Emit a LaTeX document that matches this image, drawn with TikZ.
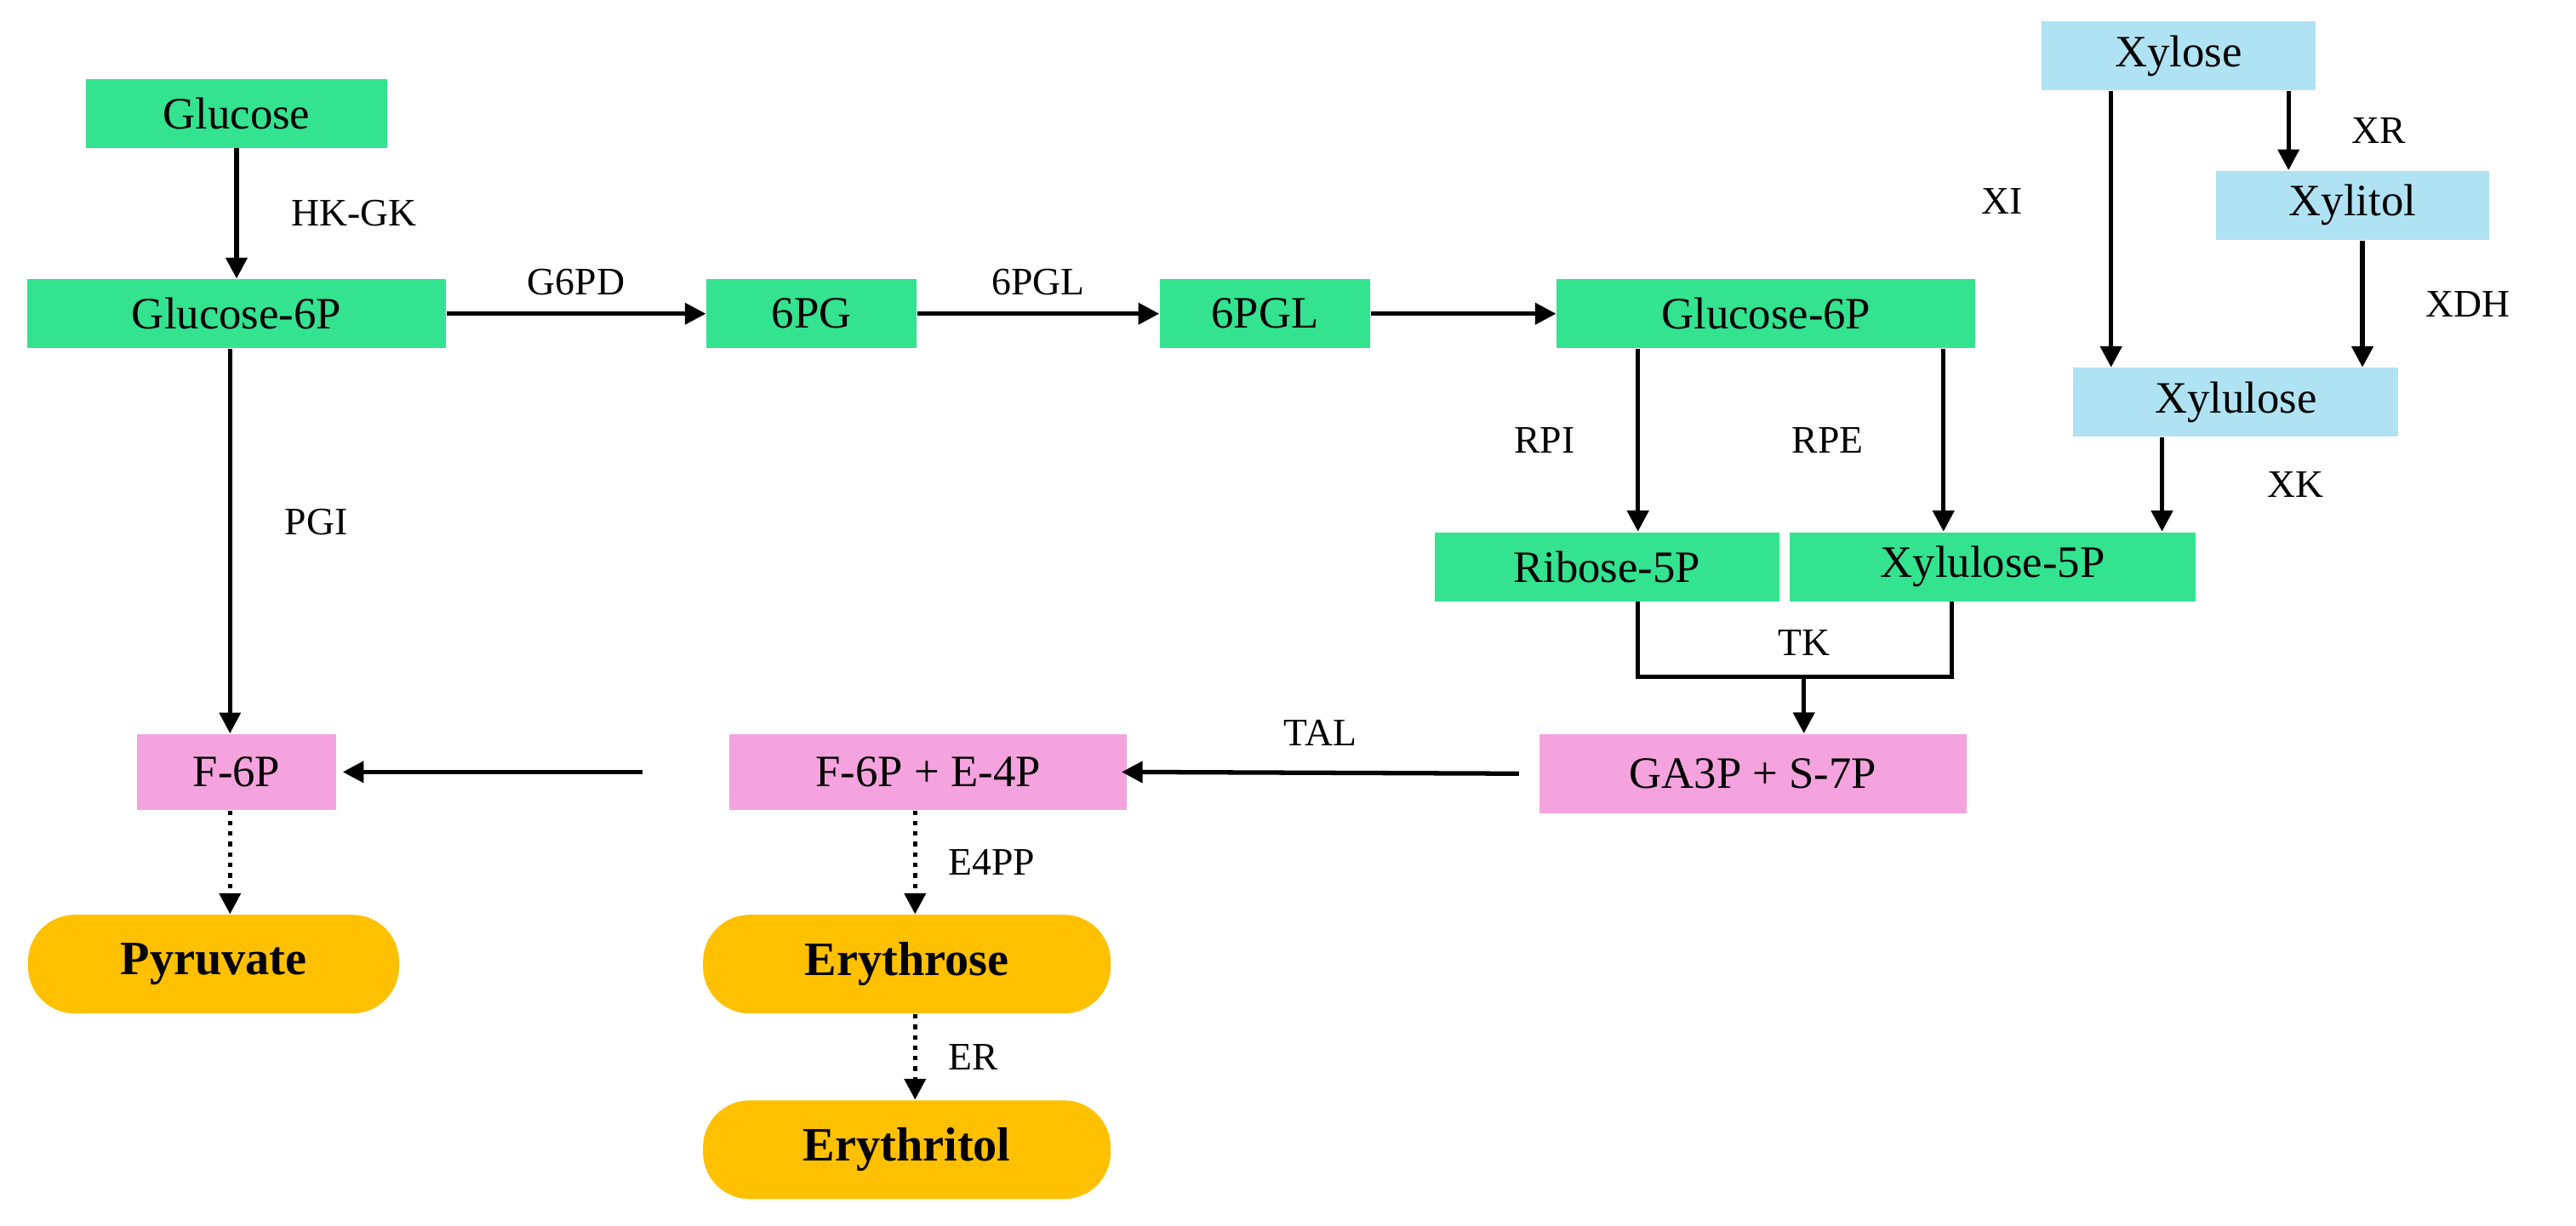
\documentclass[tikz,border=0pt]{standalone}
\usepackage{fontspec}
\setmainfont{Liberation Serif}
\usetikzlibrary{arrows.meta}
\definecolor{gr}{HTML}{33E38F}
\definecolor{bl}{HTML}{AFE3F3}
\definecolor{pk}{HTML}{F5A3DE}
\definecolor{og}{HTML}{FFC000}
\begin{document}
\begin{tikzpicture}[x=0.0193cm,y=-0.0193cm,
 box/.style={fill=#1,minimum height=0.81cm,inner sep=0pt,font=\fontsize{15}{18}\selectfont},
 endb/.style={fill=og,rounded corners=0.55cm,minimum width=4.36cm,minimum height=1.16cm,font=\bfseries\fontsize{16}{19}\selectfont},
 lab/.style={font=\fontsize{13}{16}\selectfont},
 ar/.style={line width=1.5pt,-{Triangle[length=7pt,width=7pt]}},
 dt/.style={line width=1.5pt,dotted,-{Triangle[length=7pt,width=7pt]}}]
\useasboundingbox (0,0) rectangle (1568,746);
\node[box=gr,minimum width=3.53cm] (glc) at (144,69) {Glucose};
\node[box=gr,minimum width=4.92cm] (g6p) at (144,191) {Glucose-6P};
\node[box=gr,minimum width=2.47cm] (pg) at (494,191) {6PG};
\node[box=gr,minimum width=2.47cm] (pgl) at (770,191) {6PGL};
\node[box=gr,minimum width=4.92cm] (g6pr) at (1075,191) {Glucose-6P};
\node[box=bl,minimum width=3.22cm] (xyl) at (1326,34) {Xylose};
\node[box=bl,minimum width=3.2cm] (xlt) at (1432,125) {Xylitol};
\node[box=bl,minimum width=3.82cm] (xlu) at (1361,245) {Xylulose};
\node[box=gr,minimum width=4.05cm] (r5p) at (978,345) {Ribose-5P};
\node[box=gr,minimum width=4.77cm] (x5p) at (1213,345) {Xylulose-5P};
\node[box=pk,minimum width=5.02cm,minimum height=0.93cm] (ga) at (1067,471) {GA3P + S-7P};
\node[box=pk,minimum width=4.67cm,minimum height=0.89cm] (fe) at (565,470) {F-6P + E-4P};
\node[box=pk,minimum width=2.34cm,minimum height=0.89cm] (f6p) at (144,470) {F-6P};
\node[endb] (pyr) at (130,587) {Pyruvate};
\node[endb,minimum width=4.79cm] (ery) at (552,587) {Erythrose};
\node[endb,minimum width=4.79cm] (eryl) at (552,700) {Erythritol};
\draw[ar] (glc.south) -- (g6p.north) node[lab,midway,right=0.5cm] {HK-GK};
\draw[ar] (g6p.south -| 140,0) -- (f6p.north -| 140,0) node[lab,pos=0.45,right=0.5cm] {PGI};
\draw[ar] (g6p) -- (pg) node[lab,midway,above=2pt] {G6PD};
\draw[ar] (pg) -- (pgl) node[lab,midway,above=2pt] {6PGL};
\draw[ar] (pgl) -- (g6pr);
\draw[ar] (g6pr.south -| 997,0) -- (r5p.north -| 997,0) node[lab,midway,left=0.6cm] {RPI};
\draw[ar] (g6pr.south -| 1183,0) -- (x5p.north -| 1183,0) node[lab,midway,left=0.8cm] {RPE};
\draw[ar] (xyl.south -| 1285,0) -- (xlu.north -| 1285,0) node[lab,pos=0.4,left=0.9cm] {XI};
\draw[ar] (xyl.south -| 1393,0) -- (xlt.north -| 1393,0) node[lab,midway,right=0.6cm] {XR};
\draw[ar] (xlt.south -| 1438,0) -- (xlu.north -| 1438,0) node[lab,midway,right=0.6cm] {XDH};
\draw[ar] (xlu.south -| 1316,0) -- (x5p.north -| 1316,0) node[lab,midway,right=1.1cm] {XK};
\coordinate (tka) at (997,412);
\coordinate (tkb) at (1188,412);
\coordinate (tkm) at (1098,412);
\draw[line width=1.5pt] (r5p.south -| tka) -- (tka) -- (tkb) -- (x5p.south -| tkb);
\draw[ar] (tkm) -- (ga.north -| tkm) node[lab,pos=-0.6] {TK};
\draw[ar] (ga.west) ++(-12,0) coordinate (gw) (gw) -- ([xshift=-2pt]fe.east) node[lab,midway,above=5pt] {TAL};
\draw[ar] ([xshift=-29pt]fe.west) -- ([xshift=2pt]f6p.east);
\draw[dt] (f6p.south -| 140,0) -- (pyr.north -| 140,0);
\draw[dt] (fe.south -| 557,0) -- (ery.north -| 557,0) node[lab,midway,right=0.25cm] {E4PP};
\draw[dt] (ery.south -| 557,0) -- (eryl.north -| 557,0) node[lab,midway,right=0.25cm] {ER};
\end{tikzpicture}
\end{document}
